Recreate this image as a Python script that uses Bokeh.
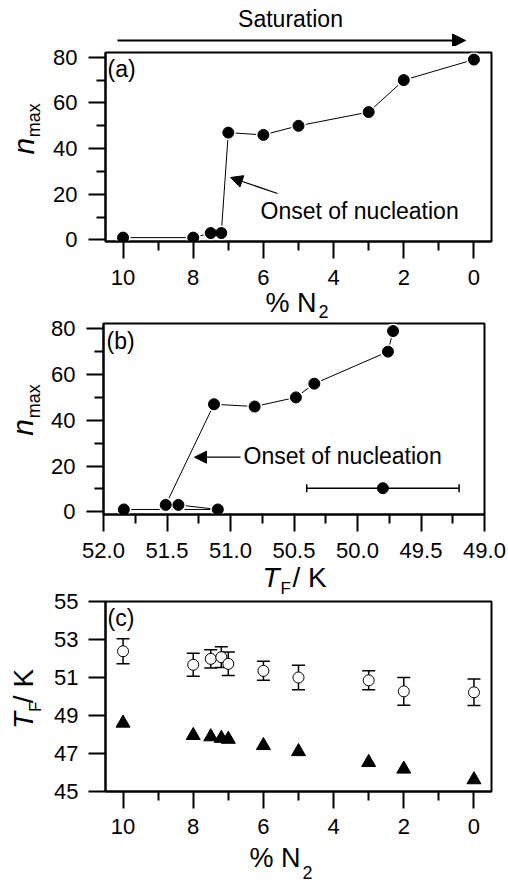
import math
from bokeh.plotting import figure
from bokeh.layouts import column, row
from bokeh.models import (Range1d, FixedTicker, Arrow, NormalHead,
                          NumeralTickFormatter, ColumnDataSource)
from bokeh.core.properties import value
from bokeh.embed import file_html
from bokeh.resources import INLINE

FONT = "Liberation Sans"
W = 508
LW = 45  # width of the left label strips
MID = 0.3465  # distance from baseline to the "middle" anchor, in em
VFIX = 17     # empirical offset for upward-reading texts

# ---------------- data ----------------
pct_n2 = [10, 8, 7.5, 7.2, 7, 6, 5, 3, 2, 0]
n_max = [1, 1, 3, 3, 47, 46, 50, 56, 70, 79]
t_f_b = [51.84, 51.10, 51.41, 51.51, 51.13, 50.81, 50.485, 50.34, 49.76, 49.72]
err_pt_t = [49.8]
err_pt_n = [10.3]
err_pt_dt = [0.6]
t_f_open = [52.38, 51.67, 51.98, 52.07, 51.72, 51.35, 51.0, 50.85, 50.27, 50.22]
t_f_open_err = [0.66, 0.6, 0.48, 0.55, 0.62, 0.5, 0.65, 0.5, 0.73, 0.7]
t_f_tri = [48.6, 47.95, 47.88, 47.8, 47.75, 47.42, 47.1, 46.53, 46.18, 45.62]

pct_ticks = [10, 8, 6, 4, 2, 0]
pct_minor = [9, 7, 5, 3, 1]
n_ticks = [0, 20, 40, 60, 80]
n_minor = [10, 30, 50, 70]
t_ticks_b = [52.0, 51.5, 51.0, 50.5, 50.0, 49.5, 49.0]
t_minor_b = [51.75, 51.25, 50.75, 50.25, 49.75, 49.25]
t_ticks_c = [45, 47, 49, 51, 53, 55]


class Geo:
    """page-pixel -> data helper for annotation placement inside a frame"""
    def __init__(self, xr, yr, fl, fr, ft, fb):
        self.xr, self.yr = xr, yr
        self.fl, self.fr, self.ft, self.fb = fl, fr, ft, fb

    def x(self, px):
        return self.xr[0] + (px - self.fl) * (self.xr[1] - self.xr[0]) / (self.fr - self.fl)

    def y(self, py):
        return self.yr[1] - (py - self.ft) * (self.yr[1] - self.yr[0]) / (self.fb - self.ft)


def make_fig(page_top, height, xr, yr, fl, fr, ft, fb, xticks, xminor, yticks, yminor,
             xstand=11, ystand=11):
    # the figure sits right of the left label strip (page x from LW to W)
    p = figure(width=W - LW, height=height,
               x_range=Range1d(*xr), y_range=Range1d(*yr),
               output_backend="svg", toolbar_location=None,
               min_border_left=fl - LW, min_border_right=W - fr,
               min_border_top=ft - page_top, min_border_bottom=page_top + height - fb)
    p.grid.visible = False
    p.outline_line_color = "black"
    p.outline_line_width = 2
    p.outline_line_alpha = 1
    p.background_fill_color = "white"
    p.border_fill_alpha = 0
    p.xaxis.ticker = FixedTicker(ticks=xticks, minor_ticks=xminor)
    p.yaxis.ticker = FixedTicker(ticks=yticks, minor_ticks=yminor)
    for ax, st in ((p.xaxis[0], xstand), (p.yaxis[0], ystand)):
        ax.axis_line_width = 2
        ax.axis_line_color = "black"
        ax.major_tick_line_width = 2
        ax.minor_tick_line_width = 2
        ax.major_tick_line_color = "black"
        ax.minor_tick_line_color = "black"
        ax.major_tick_in = 0
        ax.minor_tick_in = 0
        ax.major_tick_out = 17
        ax.minor_tick_out = 9
        ax.major_label_text_font = FONT
        ax.major_label_text_font_size = "22px"
        ax.major_label_text_color = "black"
        ax.major_label_standoff = st
    return p, Geo(xr, yr, fl, fr, ft, fb)


def strip(width, height):
    """transparent text strip; data coordinates = pixels from its top-left corner"""
    p = figure(width=width, height=height, x_range=Range1d(0, width), y_range=Range1d(height, 0),
               output_backend="svg", toolbar_location=None, x_axis_type=None, y_axis_type=None,
               min_border_left=0, min_border_right=0, min_border_top=0, min_border_bottom=0)
    p.grid.visible = False
    p.outline_line_color = None
    p.background_fill_alpha = 0
    p.border_fill_alpha = 0
    return p


def txt(p, x, y, text, size, align="left", angle=0.0, style="normal"):
    p.text(x=[x], y=[y], text=[text], text_font=value(FONT), text_font_size=value(f"{size}px"),
           text_align=align, text_baseline="middle", angle=angle,
           text_font_style=style, text_color="black")


def htxt(p, x, base_y, text, size, align="left", style="normal"):
    """horizontal text placed by its baseline (strip pixels)"""
    txt(p, x, base_y - MID * size, text, size, align=align, style=style)


def vtxt(p, base_x, y, text, size, align="left", style="normal"):
    """text reading upward, placed by its baseline x (strip pixels)"""
    txt(p, base_x - MID * size, y + VFIX, text, size, align=align, angle=math.pi / 2, style=style)


def arrow(p, x0, y0, x1, y1, width=1.5, head=13):
    p.add_layout(Arrow(end=NormalHead(size=head, fill_color="black", line_color="black", line_width=1),
                       x_start=x0, y_start=y0, x_end=x1, y_end=y1,
                       line_color="black", line_width=width))


# ---------------- top strip: Saturation (page y 0..46) ----------------
s0 = strip(W, 46)
txt(s0, 290, 18, "Saturation", 23, align="center")
arrow(s0, 117, 40, 465, 40, width=2, head=13)

# ---------------- panel (a): canvas page y 46..296 ----------------
A_TOP, A_H = 46, 250
pA, gA = make_fig(A_TOP, A_H, (10.5, -0.5), (-0.7, 82.1), 105, 491, 52, 241,
                  pct_ticks, pct_minor, n_ticks, n_minor)
srcA = ColumnDataSource(dict(x=pct_n2, y=n_max))
pA.line("x", "y", source=srcA, line_color="black", line_width=1)
pA.scatter("x", "y", source=srcA, marker="circle", size=15, fill_color="white", line_color=None)
pA.scatter("x", "y", source=srcA, marker="circle", size=11, fill_color="black", line_color="black")
txt(pA, gA.x(107), gA.y(68), "(a)", 23)
txt(pA, gA.x(260), gA.y(210), "Onset of nucleation", 23)
arrow(pA, gA.x(277), gA.y(193), gA.x(230), gA.y(177), width=1.2, head=12)

lA = strip(LW, A_H)
vtxt(lA, 33, 142 - A_TOP, "n", 30, align="right", style="italic")
vtxt(lA, 40, 141 - A_TOP, "max", 18, align="left")

# x label strip of (a): canvas page y 286..324
XA_TOP, XA_H = 286, 38
xA = strip(W, XA_H)
htxt(xA, 316, 312 - XA_TOP, "% N", 27, align="right")
htxt(xA, 318, 317 - XA_TOP, "2", 18, align="left")
xA.margin = (-10, 0, -6, 0)

# ---------------- panel (b): canvas page y 312..568 ----------------
B_TOP, B_H = 312, 256
pB, gB = make_fig(B_TOP, B_H, (52.0, 49.0), (-1.2, 82.3), 103, 484, 323, 514,
                  t_ticks_b, t_minor_b, n_ticks, n_minor)
pB.xaxis.formatter = NumeralTickFormatter(format="0.0")
srcB = ColumnDataSource(dict(x=t_f_b, y=n_max))
pB.line("x", "y", source=srcB, line_color="black", line_width=1)
pB.scatter("x", "y", source=srcB, marker="circle", size=15, fill_color="white", line_color=None)
pB.scatter("x", "y", source=srcB, marker="circle", size=11, fill_color="black", line_color="black")
lo_b = [t - d for t, d in zip(err_pt_t, err_pt_dt)]
hi_b = [t + d for t, d in zip(err_pt_t, err_pt_dt)]
pB.segment(x0=lo_b, y0=err_pt_n, x1=hi_b, y1=err_pt_n, line_color="black", line_width=1.5)
pB.scatter(lo_b, err_pt_n, marker="dash", angle=math.pi / 2, size=8, line_color="black", line_width=1.5)
pB.scatter(hi_b, err_pt_n, marker="dash", angle=math.pi / 2, size=8, line_color="black", line_width=1.5)
pB.scatter(err_pt_t, err_pt_n, marker="circle", size=11, fill_color="black", line_color="black")
txt(pB, gB.x(106), gB.y(340), "(b)", 23)
txt(pB, gB.x(243), gB.y(455), "Onset of nucleation", 23)
arrow(pB, gB.x(240), gB.y(456.7), gB.x(194), gB.y(456.7), width=1.2, head=12)

lB = strip(LW, B_H)
vtxt(lB, 32, 423 - B_TOP, "n", 30, align="right", style="italic")
vtxt(lB, 40, 422 - B_TOP, "max", 18, align="left")

# x label strip of (b): canvas page y 560..599
XB_TOP, XB_H = 560, 39
xB = strip(W, XB_H)
htxt(xB, 279, 587 - XB_TOP, "T", 28, align="right", style="italic")
htxt(xB, 280, 594 - XB_TOP, "F", 17, align="left")
htxt(xB, 292, 587 - XB_TOP, "/ K", 28, align="left")
xB.margin = (-8, 0, -6, 0)

# ---------------- panel (c): canvas page y 586..844 ----------------
C_TOP, C_H = 586, 258
pC, gC = make_fig(C_TOP, C_H, (10.5, -0.5), (45, 55), 105, 491, 601, 791,
                  pct_ticks, pct_minor, t_ticks_c, [], xstand=10, ystand=10)
lo_c = [t - d for t, d in zip(t_f_open, t_f_open_err)]
hi_c = [t + d for t, d in zip(t_f_open, t_f_open_err)]
pC.segment(x0=pct_n2, y0=lo_c, x1=pct_n2, y1=hi_c, line_color="black", line_width=1.5)
pC.scatter(pct_n2, lo_c, marker="dash", size=13, line_color="black", line_width=1.5)
pC.scatter(pct_n2, hi_c, marker="dash", size=13, line_color="black", line_width=1.5)
pC.scatter(pct_n2, t_f_open, marker="circle", size=11, fill_color="white", line_color="black", line_width=1)
pC.scatter(pct_n2, t_f_tri, marker="triangle", size=14, fill_color="black", line_color="black")
txt(pC, gC.x(107), gC.y(617), "(c)", 23)

lC = strip(LW, C_H)
vtxt(lC, 33, 719 - C_TOP, "T", 28, align="right", style="italic")
vtxt(lC, 41, 719 - C_TOP, "F", 17, align="left")
vtxt(lC, 33, 707 - C_TOP, "/ K", 28, align="left")

# x label strip of (c): canvas page y 842..883
XC_TOP, XC_H = 842, 41
xC = strip(W, XC_H)
htxt(xC, 300, 867 - XC_TOP, "% N", 27, align="right")
htxt(xC, 302, 878 - XC_TOP, "2", 18, align="left")
xC.margin = (-2, 0, 0, 0)

rA = row(lA, pA, spacing=0)
rB = row(lB, pB, spacing=0, margin=(-6, 0, 0, 0))
rC = row(lC, pC, spacing=0, margin=(-7, 0, 0, 0))

layout = column(s0, rA, xA, rB, xB, rC, xC, spacing=0)
open("out.html", "w").write(file_html(layout, INLINE))
